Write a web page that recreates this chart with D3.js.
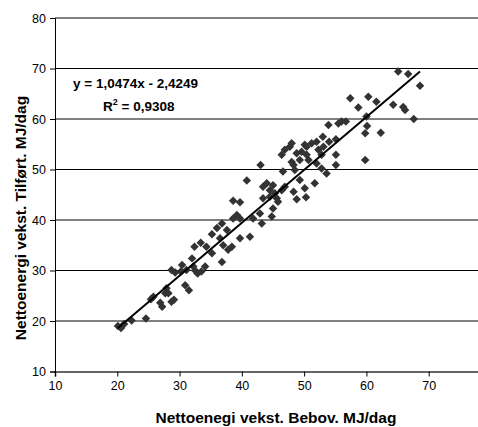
<!DOCTYPE html>
<html><head><meta charset="utf-8">
<script src="https://cdn.jsdelivr.net/npm/d3@7"></script>
<style>body{margin:0;background:#fff}svg{display:block}text{font-family:"Liberation Sans",Arial,sans-serif}</style>
</head><body><svg id="c" width="478" height="427"></svg>
<script>
const xTicks = [10,20,30,40,50,60,70];
const yTicks = [10,20,30,40,50,60,70,80];
const xVals = [20.1,20.6,21.1,22.3,24.6,25.4,25.8,26.9,27.2,27.7,27.9,28.2,28.7,29.1,30.9,31.5,28.7,29.3,30.4,30.2,31.1,32.2,32.5,32.9,33.5,34.1,32.0,32.4,33.4,34.3,35.2,36.8,35.2,36.0,36.5,37.0,37.8,38.4,36.8,37.6,38.6,39.2,39.7,38.6,39.7,39.7,41.3,41.8,42.9,43.2,44.8,45.0,43.4,44.5,45.8,40.8,43.0,43.4,44.0,44.5,45.0,45.3,45.6,46.4,46.9,46.4,46.9,47.7,48.0,46.6,48.0,48.8,49.3,49.6,50.4,50.4,51.2,52.0,53.1,49.3,50.1,48.8,50.3,51.7,52.0,52.8,53.6,52.3,55.1,55.1,57.4,58.7,60.3,61.6,64.3,53.9,55.5,56.7,60.0,60.1,59.8,62.3,59.8,53.0,54.0,55.1,50.1,50.7,52.8,48.3,48.5,48.3,65.1,66.7,68.6,65.9,66.2,67.6,56.0];
const yVals = [19.0,18.6,19.4,20.1,20.5,24.3,24.8,23.6,22.8,25.5,26.5,25.5,23.8,24.2,27.1,26.1,30.1,29.6,31.1,29.8,30.1,30.8,30.0,29.4,29.8,30.8,32.4,34.7,35.5,34.7,33.4,31.7,37.2,38.4,36.4,35.0,34.1,34.7,39.3,38.0,40.3,41.0,40.3,43.8,43.5,36.4,36.7,40.3,41.3,39.3,40.7,42.3,44.3,44.6,43.6,47.8,50.9,46.6,47.3,45.9,46.9,45.3,44.3,45.9,46.6,52.9,53.9,54.5,55.2,49.6,51.5,53.2,51.9,53.5,54.5,52.9,55.2,55.5,54.5,47.9,46.3,44.1,44.5,47.3,51.2,50.2,49.2,53.9,52.9,50.9,64.1,62.3,64.4,63.4,62.8,58.8,59.1,59.5,60.5,58.6,57.2,57.3,51.9,56.5,55.5,56.0,54.9,51.9,52.9,50.9,49.9,45.6,69.4,68.9,66.6,62.4,61.8,60.0,59.5];
const slope = 1.0474, intercept = -2.4249;
const eqText = "y = 1,0474x - 2,4249";
const r2Text = "0,9308";
const xTitle = "Nettoenegi vekst. Bebov. MJ/dag";
const yTitle = "Nettoenergi vekst. Tilført. MJ/dag";

const svg = d3.select("#c");
const x = d3.scaleLinear().domain([10,80]).range([55,491]);
const y = d3.scaleLinear().domain([10,80]).range([371.5,18]);

// gridlines
svg.append("g").selectAll("line").data(yTicks.filter(d=>d>10)).join("line")
  .attr("x1",55).attr("x2",491).attr("y1",d=>y(d)).attr("y2",d=>y(d))
  .attr("stroke","#000").attr("stroke-width",1);

// axes
const xAxis = d3.axisBottom(x).tickValues(xTicks).tickSize(5).tickPadding(5).tickFormat(d3.format("d"));
const gx = svg.append("g").attr("transform",`translate(0,${y(10)})`).call(xAxis);
gx.select(".domain").attr("stroke","#333").attr("stroke-width",1.6);
gx.selectAll("text").attr("font-size",12.5).attr("fill","#000").attr("font-family","Liberation Sans, Arial");
gx.selectAll("line").attr("stroke","#000");

const yAxis = d3.axisLeft(y).tickValues(yTicks).tickSize(5).tickPadding(4).tickFormat(d3.format("d"));
const gy = svg.append("g").attr("transform",`translate(${x(10)},0)`).call(yAxis);
gy.select(".domain").attr("stroke","#000");
gy.selectAll("text").attr("font-size",12.5).attr("fill","#000").attr("font-family","Liberation Sans, Arial");
gy.selectAll("line").attr("stroke","#000");

// points
const data = xVals.map((v,i)=>({x:v,y:yVals[i]}));
const sym = d3.symbol().type(d3.symbolSquare).size(36);
svg.append("g").selectAll("path").data(data).join("path")
  .attr("d",sym)
  .attr("transform",d=>`translate(${x(d.x)},${y(d.y)}) rotate(45)`)
  .attr("fill","#333");

// regression line
const xmin = d3.min(xVals), xmax = d3.max(xVals);
const line = d3.line().x(d=>x(d)).y(d=>y(slope*d+intercept));
svg.append("path").datum([xmin,xmax]).attr("d",line)
  .attr("stroke","#000").attr("stroke-width",2).attr("fill","none");

// equation
svg.append("text").attr("x",73).attr("y",88).attr("font-size",13.5).attr("font-weight","bold").text(eqText);
const r = svg.append("text").attr("x",103).attr("y",111).attr("font-size",13.5).attr("font-weight","bold");
r.append("tspan").text("R");
r.append("tspan").attr("font-size",9).attr("dy",-6).text("2");
r.append("tspan").attr("dy",6).text(" = " + r2Text);

// axis titles
svg.append("text").attr("x",276).attr("y",423).attr("text-anchor","middle")
  .attr("font-size",15.5).attr("font-weight","bold").text(xTitle);
svg.append("text").attr("transform","translate(26,218) rotate(-90)").attr("text-anchor","middle")
  .attr("font-size",15.5).attr("font-weight","bold").text(yTitle);
</script></body></html>
